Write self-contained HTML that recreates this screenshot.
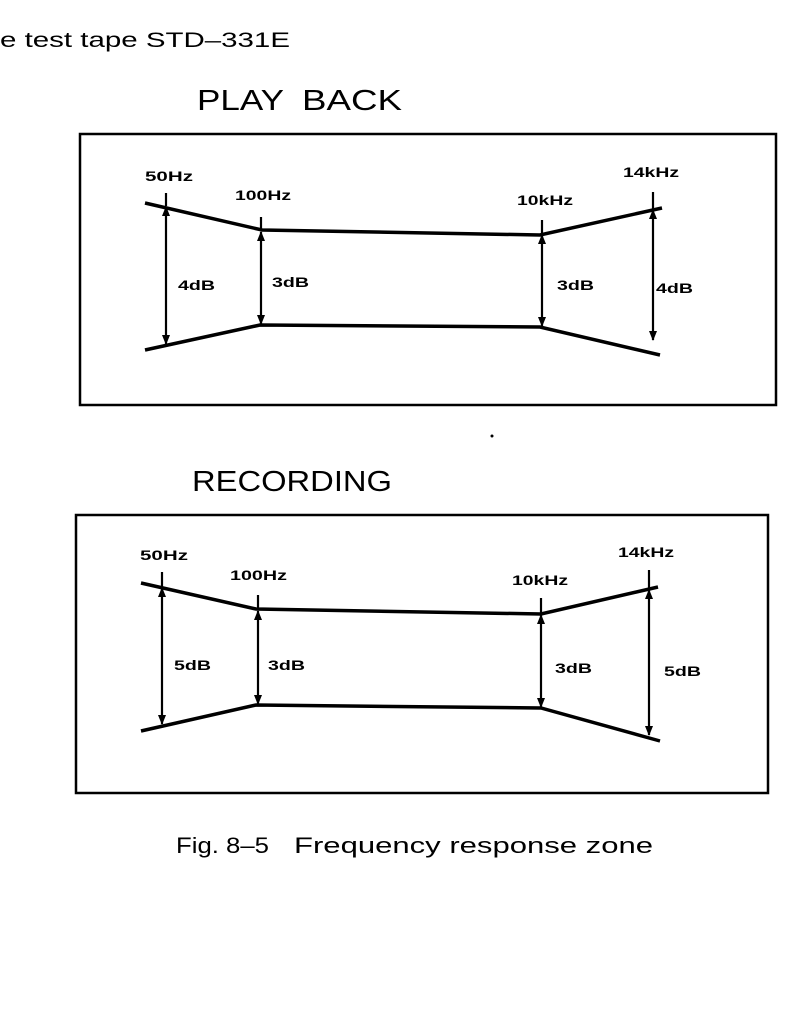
<!DOCTYPE html>
<html><head><meta charset="utf-8"><style>
html,body{margin:0;padding:0;background:#fff;}
svg{display:block;}
text{font-family:"Liberation Sans",sans-serif;fill:#000;}
</style></head><body>
<svg width="800" height="1025" viewBox="0 0 800 1025" xmlns="http://www.w3.org/2000/svg">
<defs>
<marker id="a" viewBox="0 0 10 10" refX="9" refY="5" markerWidth="10" markerHeight="12" orient="auto-start-reverse" markerUnits="userSpaceOnUse">
<path d="M0,1 L10,5 L0,9 z" fill="#000"/></marker>
</defs>
<text x="0" y="47" font-size="21" textLength="290" lengthAdjust="spacingAndGlyphs">e test tape STD–331E</text>
<text x="197" y="110" font-size="29" textLength="87" lengthAdjust="spacingAndGlyphs">PLAY</text>
<text x="302" y="110" font-size="29" textLength="100" lengthAdjust="spacingAndGlyphs">BACK</text>
<rect x="80" y="134" width="696" height="271" fill="none" stroke="#000" stroke-width="2.5"/>
<g fill="none" stroke="#000" stroke-width="3.5">
<polyline points="145,203 262,230 540,235 662,208"/>
<polyline points="145,350 260,325 540,327 660,355"/>
</g>
<g stroke="#000" stroke-width="2.2" fill="none">
<line x1="166" y1="193" x2="166" y2="206"/>
<line x1="166" y1="207" x2="166" y2="344" marker-start="url(#a)" marker-end="url(#a)"/>
<line x1="261" y1="217" x2="261" y2="231"/>
<line x1="261" y1="232" x2="261" y2="324" marker-start="url(#a)" marker-end="url(#a)"/>
<line x1="542" y1="220" x2="542" y2="234"/>
<line x1="542" y1="235" x2="542" y2="326" marker-start="url(#a)" marker-end="url(#a)"/>
<line x1="653" y1="192" x2="653" y2="209"/>
<line x1="653" y1="210" x2="653" y2="340" marker-start="url(#a)" marker-end="url(#a)"/>
</g>
<g font-size="14" font-weight="bold">
<text x="145" y="181" textLength="48" lengthAdjust="spacingAndGlyphs">50Hz</text>
<text x="235" y="200" textLength="56" lengthAdjust="spacingAndGlyphs">100Hz</text>
<text x="517" y="205" textLength="56" lengthAdjust="spacingAndGlyphs">10kHz</text>
<text x="623" y="177" textLength="56" lengthAdjust="spacingAndGlyphs">14kHz</text>
<text x="178" y="290" textLength="37" lengthAdjust="spacingAndGlyphs">4dB</text>
<text x="272" y="287" textLength="37" lengthAdjust="spacingAndGlyphs">3dB</text>
<text x="557" y="290" textLength="37" lengthAdjust="spacingAndGlyphs">3dB</text>
<text x="656" y="293" textLength="37" lengthAdjust="spacingAndGlyphs">4dB</text>
</g>

<text x="192" y="491" font-size="29" textLength="200" lengthAdjust="spacingAndGlyphs">RECORDING</text>
<rect x="76" y="515" width="692" height="278" fill="none" stroke="#000" stroke-width="2.5"/>
<g fill="none" stroke="#000" stroke-width="3.5">
<polyline points="141,583 256,609 541,614 658,587"/>
<polyline points="141,731 256,705 541,708 660,741"/>
</g>
<g stroke="#000" stroke-width="2.2" fill="none">
<line x1="162" y1="572" x2="162" y2="587"/>
<line x1="162" y1="588" x2="162" y2="724" marker-start="url(#a)" marker-end="url(#a)"/>
<line x1="258" y1="595" x2="258" y2="610"/>
<line x1="258" y1="611" x2="258" y2="704" marker-start="url(#a)" marker-end="url(#a)"/>
<line x1="541" y1="598" x2="541" y2="614"/>
<line x1="541" y1="615" x2="541" y2="707" marker-start="url(#a)" marker-end="url(#a)"/>
<line x1="649" y1="570" x2="649" y2="589"/>
<line x1="649" y1="590" x2="649" y2="735" marker-start="url(#a)" marker-end="url(#a)"/>
</g>
<g font-size="14" font-weight="bold">
<text x="140" y="560" textLength="48" lengthAdjust="spacingAndGlyphs">50Hz</text>
<text x="230" y="580" textLength="57" lengthAdjust="spacingAndGlyphs">100Hz</text>
<text x="512" y="585" textLength="56" lengthAdjust="spacingAndGlyphs">10kHz</text>
<text x="618" y="557" textLength="56" lengthAdjust="spacingAndGlyphs">14kHz</text>
<text x="174" y="670" textLength="37" lengthAdjust="spacingAndGlyphs">5dB</text>
<text x="268" y="670" textLength="37" lengthAdjust="spacingAndGlyphs">3dB</text>
<text x="555" y="673" textLength="37" lengthAdjust="spacingAndGlyphs">3dB</text>
<text x="664" y="676" textLength="37" lengthAdjust="spacingAndGlyphs">5dB</text>
</g>
<circle cx="492" cy="436" r="1.5" fill="#000"/>
<text x="176" y="853" font-size="22" textLength="93" lengthAdjust="spacingAndGlyphs">Fig. 8–5</text>
<text x="294" y="853" font-size="22" textLength="359" lengthAdjust="spacingAndGlyphs">Frequency response zone</text>
</svg>
</body></html>
